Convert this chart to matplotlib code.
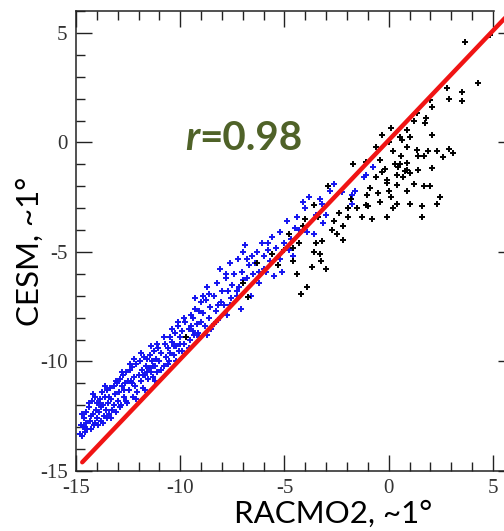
import numpy as np
import matplotlib
matplotlib.use("Agg")
import matplotlib.pyplot as plt
from matplotlib.ticker import MultipleLocator

plt.rcParams['axes.unicode_minus'] = False

# blue points (RACMO2, CESM)
blue_x = [-14.8, -14.75, -14.7, -14.65, -14.6, -14.55, -14.5, -14.5, -14.45, -14.4,
          -14.35, -14.3, -14.25, -14.2, -14.15, -14.1, -14.05, -14.0, -14.0, -13.95,
          -13.9, -13.85, -13.8, -13.75, -13.7, -13.65, -13.6, -13.55, -13.5, -13.5,
          -13.45, -13.4, -13.35, -13.3, -13.25, -13.2, -13.15, -13.1, -13.05, -13.0,
          -12.95, -12.9, -12.85, -12.8, -12.75, -12.7, -12.65, -12.6, -12.55, -12.5,
          -12.45, -12.4, -12.35, -12.3, -12.25, -12.2, -12.15, -12.1, -12.05, -12.0,
          -11.95, -11.9, -11.85, -11.8, -11.75, -11.7, -11.65, -11.6, -11.55, -11.5,
          -11.45, -11.4, -11.35, -11.3, -11.25, -11.2, -11.15, -11.1, -11.05, -11.0,
          -10.9, -10.8, -10.75, -10.7, -10.6, -10.55, -10.5, -10.5,
          -10.4, -10.3, -10.25, -10.2, -10.1, -10.05, -10.0, -10.0,
          -9.9, -9.8, -9.75, -9.7, -9.6, -9.55, -9.5, -9.5,
          -9.4, -9.35, -9.3, -9.2, -9.15, -9.1, -9.0, -9.0,
          -8.9, -8.8, -8.75, -8.7, -8.6, -8.55, -8.5,
          -8.4, -8.3, -8.25, -8.2, -8.1, -8.05, -8.0,
          -7.9, -7.8, -7.75, -7.7, -7.6, -7.55, -7.5,
          -7.4, -7.3, -7.25, -7.2, -7.1, -7.05, -7.0,
          -6.9, -6.8, -6.7, -6.6, -6.55, -6.5,
          -6.4, -6.3, -6.2, -6.1, -6.0, -6.0,
          -5.9, -5.8, -5.7, -5.6, -5.5,
          -5.4, -5.3, -5.2, -5.1, -5.0,
          -4.9, -4.7, -4.6, -4.4, -4.3, -4.1, -4.0,
          -3.9, -3.8, -3.6, -3.5, -3.3, -3.15, -3.0, -3.2,
          -2.8, -2.6, -2.25, -1.95, -1.75, -1.75, -1.6, -1.2, -1.1, -0.75,
          -14.7, -14.6, -14.4, -14.3, -14.2, -14.1, -13.9, -13.8, -13.7, -13.6,
          -13.4, -13.3, -13.2, -13.1, -12.9, -12.8, -12.7, -12.6, -12.4, -12.3,
          -12.2, -12.1, -11.9, -11.8, -11.7, -11.6, -11.4, -11.3, -11.2, -11.1,
          -10.9, -10.8, -10.6, -10.4, -10.3, -10.2, -10.1, -9.9, -9.8, -9.6,
          -9.4, -9.3, -9.1, -8.9, -8.7, -8.6, -8.4, -8.2, -7.8, -7.6,
          -7.3, -7.0, -6.8, -6.2, -5.8, -5.2, -4.8, -4.5]
blue_y = [-13.3, -12.9, -13.4, -13.0, -12.6, -13.2, -12.3, -12.8, -13.1, -12.1,
          -12.7, -13.1, -11.8, -12.4, -12.9, -11.6, -12.2, -12.6, -11.9, -12.9,
          -12.3, -11.7, -12.7, -11.4, -12.0, -12.5, -11.6, -12.2, -11.3, -12.6,
          -11.9, -12.4, -11.2, -11.7, -12.2, -11.1, -11.5, -12.3, -11.0, -11.8,
          -11.4, -10.8, -12.0, -11.1, -10.6, -11.6, -11.0, -10.5, -11.9, -10.9,
          -11.3, -10.4, -10.9, -10.25, -11.6, -10.7, -11.1, -10.1, -11.4, -10.6,
          -10.0, -10.9, -10.4, -11.2, -9.8, -10.6, -10.2, -9.9, -10.8, -10.3,
          -9.7, -10.5, -10.0, -10.7, -9.5, -10.2, -9.9, -10.5, -9.4, -10.0,
          -9.6, -10.2, -9.2, -9.8, -9.4, -10.0, -8.9, -9.6,
          -9.1, -9.7, -8.7, -9.3, -8.4, -9.5, -8.9, -9.2,
          -8.6, -9.2, -8.2, -8.9, -8.5, -9.0, -7.9, -8.4,
          -8.0, -8.8, -7.1, -8.3, -8.7, -7.7, -8.2, -7.3,
          -7.8, -8.4, -7.2, -6.6, -8.0, -7.5, -8.5,
          -7.0, -7.7, -6.4, -8.1, -5.8, -7.3, -6.8,
          -7.4, -6.2, -7.9, -6.8, -5.5, -7.1, -6.5,
          -6.0, -7.0, -5.3, -6.6, -7.6, -5.9, -6.3,
          -4.7, -6.2, -5.6, -7.0, -5.2, -6.0,
          -5.5, -5.0, -6.4, -4.6, -5.8, -5.2,
          -5.9, -4.9, -5.4, -4.3, -6.1,
          -4.8, -5.6, -4.1, -5.9, -4.6,
          -3.6, -4.4, -5.2, -3.4, -4.0, -2.7, -3.0,
          -4.1, -2.5, -4.2, -3.3, -2.6, -3.7, -3.3, -2.8,
          -2.2, -1.9, -2.25, -3.0, -2.4, -2.8, -2.2, -1.6, -1.5, -1.1,
          -12.4, -13.0, -11.9, -12.5, -11.5, -12.8, -11.9, -12.1, -12.8, -11.1,
          -11.6, -12.6, -12.0, -10.9, -12.1, -10.5, -11.3, -11.8, -10.1, -11.0,
          -9.9, -11.7, -9.6, -10.6, -11.3, -10.5, -9.3, -10.2, -10.9, -9.2,
          -10.4, -8.9, -10.1, -8.5, -9.3, -10.0, -8.2, -9.5, -8.0, -9.4,
          -8.6, -7.6, -8.9, -7.0, -8.8, -6.9, -8.3, -7.4, -6.0, -7.4,
          -6.8, -5.0, -5.3, -5.9, -4.6, -5.3, -4.9, -3.9]

# black points
black_x = [3.65, 4.85, 4.3, 2.8, 3.5, 2.9, 3.5, 2.1, 2.0, 1.35,
           1.8, 1.75, 1.2, 0.1, 0.9, 0.55, -0.3, 2.1, 1.0, 0.0,
           0.65, 0.9, 1.35, 1.9, 2.3, 2.9, 3.1, 2.6, 1.7, 1.4,
           -0.4, -1.1, -1.7, 0.55, 0.3, 0.9, 1.0, 1.4, 2.1, 0.8,
           -0.3, 0.4, -0.1, -0.1, 0.9, 1.7, 2.0, 0.4, 0.1, -0.5,
           -0.9, -0.4, 0.4, 1.0, 2.45, 2.3, 1.6, 1.6, -0.1, -0.8,
           -1.3, -1.95, -2.4, -2.2, -2.7, -2.5, -2.2, -3.2, -3.5, -3.6,
           -3.3, -3.25, -3.7, -1.5, -1.0, -1.05, -1.95, -2.9, -3.6, -4.1,
           0.9, -1.1, -4.6, -0.2, 0.2, 0.6, 0.45, -0.6, 1.2, 0.2,
           -4.3, -4.0, -4.8, -5.0, -4.4, -3.9, -4.2, -3.0, -2.6, -1.8,
           -0.6, 0.7, 0.0, -9.7, -7.0, -6.3, -5.3, -6.75, -5.6, -4.6,
           -3.4]
black_y = [4.6, 4.9, 2.7, 2.5, 2.3, 2.0, 1.9, 1.6, 1.95, 1.35,
           1.1, 0.9, 1.0, 0.66, 0.57, 0.25, 0.34, 0.34, 0.25, 0.0,
           0.1, -0.2, -0.35, -0.4, -0.4, -0.3, -0.5, -0.65, -0.6, -0.6,
           -0.8, -0.9, -1.0, -1.0, -1.0, -1.25, -1.4, -1.25, -1.15, -1.3,
           -1.35, -1.5, -1.7, -1.85, -2.2, -2.0, -2.0, -1.95, -2.5, -2.3,
           -2.1, -2.7, -2.8, -2.8, -2.5, -2.8, -2.9, -3.4, -3.4, -3.5,
           -3.4, -3.4, -3.2, -3.8, -4.0, -4.2, -4.45, -4.5, -4.6, -5.0,
           -5.1, -5.4, -5.7, -3.0, -2.9, -2.4, -3.0, -2.0, -2.85, -3.8,
           -0.95, -2.85, -5.4, -1.2, -0.4, -0.6, -1.1, -1.6, -1.9, -3.0,
           -4.6, -3.5, -4.2, -4.9, -6.0, -6.6, -6.9, -5.8, -3.6, -2.6,
           -0.2, -1.6, -2.2, -8.9, -6.4, -5.5, -5.6, -7.05, -5.1, -4.8,
           -3.4]

# 1:1 line
line_x = [-14.7, 5.6]
line_y = [-14.6, 5.7]

r_value = 0.98

fig = plt.figure(figsize=(5.04, 5.31), dpi=100)
ax = fig.add_axes([0.1508, 0.1130, 0.852, 0.8663])

ax.plot(blue_x, blue_y, linestyle='none', marker='+', markersize=4.8,
        mew=1.4, color='#1414f0', zorder=3)
ax.plot(black_x, black_y, linestyle='none', marker='+', markersize=4.8,
        mew=1.4, color='black', zorder=3)
ax.plot(line_x, line_y, color='#f01414', linewidth=3.2,
        solid_capstyle='round', zorder=4)

ax.set_xlim(-15, 5.6)
ax.set_ylim(-15, 6.0)
ax.set_xticks([-15, -10, -5, 0, 5])
ax.set_yticks([-15, -10, -5, 0, 5])
ax.xaxis.set_minor_locator(MultipleLocator(1))
ax.yaxis.set_minor_locator(MultipleLocator(1))
ax.tick_params(which='both', direction='in', top=True, right=False,
               width=1.0, colors='#222222')
ax.tick_params(which='major', length=11.5, pad=6)
ax.tick_params(which='minor', length=6.5)
for lab in ax.get_xticklabels() + ax.get_yticklabels():
    lab.set_fontfamily('Liberation Serif')
    lab.set_fontsize(15)
    lab.set_color('#333333')
for s in ['left', 'bottom', 'top']:
    ax.spines[s].set_linewidth(1.1)
    ax.spines[s].set_color('#222222')
ax.spines['right'].set_visible(False)
ax.spines['top'].set_bounds(-15, 5.05)

# short ticks of the neighbouring panel on the right edge
ax2 = ax.twinx()
ax2.set_ylim(-15, 6.0)
ax2.set_yticks([-15, -10, -5, 0, 5])
ax2.tick_params(direction='in', length=5, width=1.0, labelright=False,
                colors='#222222')
for s in ax2.spines.values():
    s.set_visible(False)

ax.text(-9.77, -0.34, 'r', fontsize=29, fontweight='bold', fontstyle='italic',
        family='Lato', color='#4F6228', ha='left', va='baseline')
ax.text(-9.08, -0.34, '=%.2f' % r_value, fontsize=29, fontweight='bold',
        family='Lato', color='#4F6228', ha='left', va='baseline')

fig.text(333 / 504, 0.015, 'RACMO2, ~1°', fontsize=22.5, family='Lato',
         color='black', ha='center', va='baseline')
fig.text(30 / 504, 0.527, 'CESM, ~1°', fontsize=22.5, family='Lato',
         color='black', ha='center', va='center', rotation=90)

fig.savefig('out.png', dpi=100)
